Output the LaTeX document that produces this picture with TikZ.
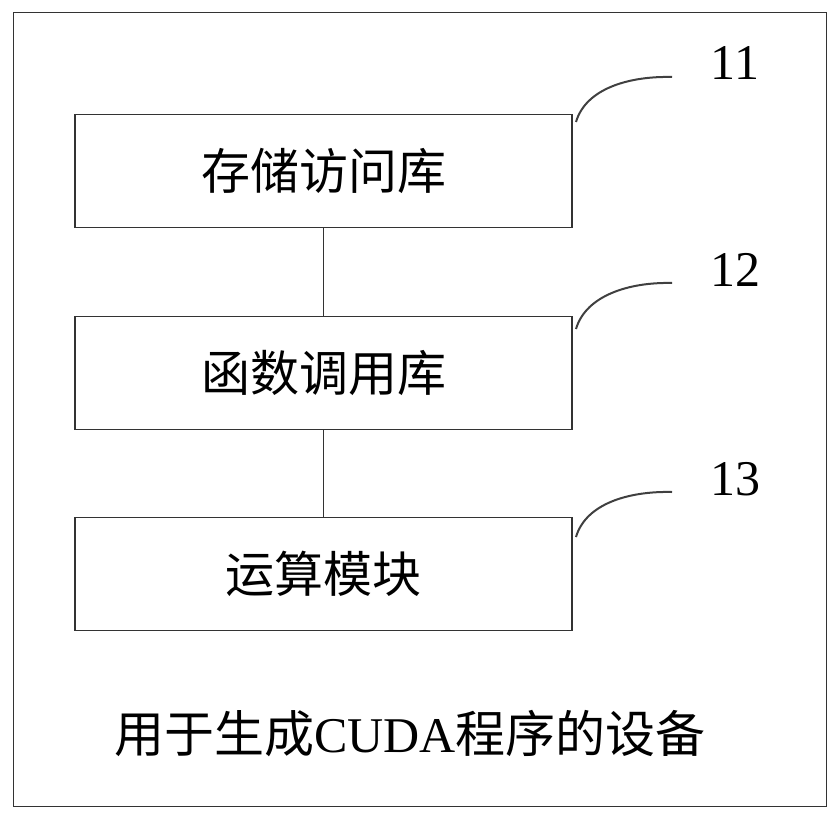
\documentclass[tikz,border=0pt]{standalone}
\usepackage{fontspec}
\setmainfont{Liberation Serif}
\newfontfamily\cjk{Noto Sans CJK SC}
\begin{document}
\begin{tikzpicture}[x=1pt,y=-1pt,
  line/.style={draw=black!80, line width=1.5pt},
  boxnode/.style={line, minimum width=497pt, minimum height=113pt, inner sep=0pt, font=\fontsize{49}{53}\selectfont\cjk},
  lead/.style={draw=black!75, line width=2pt},
  num/.style={font=\fontsize{50}{54}\selectfont, inner sep=0pt}]
\useasboundingbox (0,0) rectangle (840,821);
\node[line, minimum width=813pt, minimum height=794pt, inner sep=0pt] (outer) at (420,409.5) {};
\node[boxnode] (b1) at (323.5,171) {存储访问库};
\node[boxnode] (b2) at (323.5,373) {函数调用库};
\node[boxnode] (b3) at (323.5,574) {运算模块};
\draw[line] (b1) -- (b2);
\draw[line] (b2) -- (b3);
\coordinate (s1) at (576,122); \coordinate (e1) at (672,77);
\coordinate (s2) at (576,329); \coordinate (e2) at (672,283);
\coordinate (s3) at (576,537); \coordinate (e3) at (672,492);
\draw[lead] (s1) .. controls (586,88) and (630,76) .. (e1);
\draw[lead] (s2) .. controls (586,295) and (630,282) .. (e2);
\draw[lead] (s3) .. controls (586,503) and (630,491) .. (e3);
\node[num] (n1) at (735,63) {11};
\node[num] (n2) at (735,270) {12};
\node[num] (n3) at (735,479) {13};
\node[font=\fontsize{50}{54}\selectfont, inner sep=0pt] (title) at (410,734) {{\cjk 用于生成}CUDA{\cjk 程序的设备}};
\end{tikzpicture}
\end{document}
